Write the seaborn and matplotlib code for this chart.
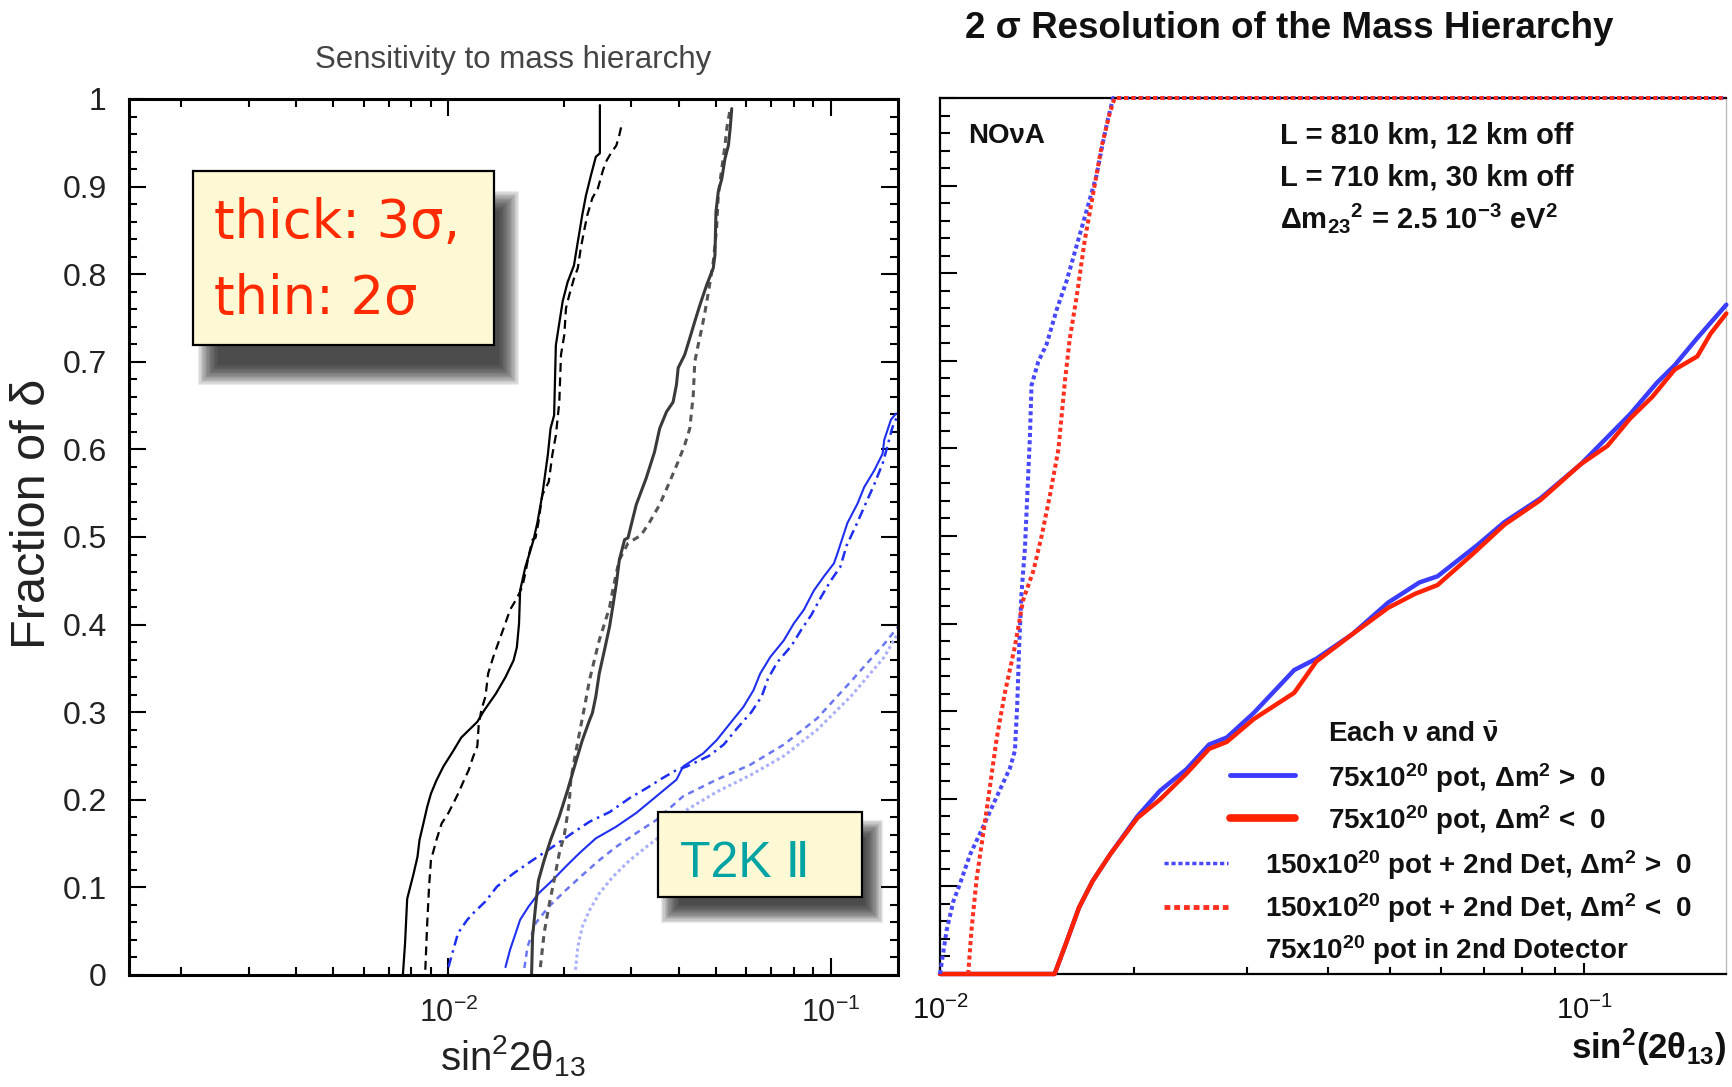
import matplotlib.pyplot as plt
import seaborn as sns
from matplotlib.lines import Line2D
from matplotlib.patches import Rectangle
from matplotlib.ticker import LogLocator, NullFormatter, MultipleLocator

# ---------------- data ----------------
# left panel (T2K II): x = sin^2 2theta13, y = fraction of delta
t2k_a_x = [0.0076, 0.0077, 0.0078, 0.0081, 0.0083, 0.0084, 0.0086, 0.0088, 0.0090, 0.0093,
           0.0097, 0.0103, 0.0108, 0.0119, 0.0124, 0.0133, 0.0141, 0.0148, 0.0151, 0.0153,
           0.0154, 0.0159, 0.0164, 0.0167, 0.0171, 0.0176, 0.0182, 0.0185, 0.0189, 0.0191,
           0.0199, 0.0205, 0.0213, 0.0218, 0.0224, 0.0229, 0.0236, 0.0243, 0.0249, 0.0249]
t2k_a_y = [0.0, 0.036, 0.087, 0.115, 0.135, 0.154, 0.173, 0.192, 0.207, 0.222,
           0.238, 0.256, 0.271, 0.289, 0.302, 0.321, 0.340, 0.359, 0.374, 0.401,
           0.439, 0.466, 0.485, 0.497, 0.517, 0.548, 0.594, 0.624, 0.639, 0.719,
           0.769, 0.791, 0.810, 0.837, 0.868, 0.890, 0.913, 0.934, 0.938, 0.993]

t2k_b_x = [0.0087, 0.0088, 0.0089, 0.0090, 0.0093, 0.0096, 0.0100, 0.0103, 0.0106, 0.0110,
           0.0113, 0.0116, 0.0119, 0.0120, 0.0122, 0.0125, 0.0127, 0.0131, 0.0135, 0.0140,
           0.0145, 0.0151, 0.0156, 0.0159, 0.0162, 0.0166, 0.0169, 0.0172, 0.0176, 0.0183,
           0.0187, 0.0191, 0.0195, 0.0197, 0.0201, 0.0203, 0.0207, 0.0213, 0.0218, 0.0222,
           0.0227, 0.0231, 0.0238, 0.0246, 0.0253, 0.0258, 0.0266, 0.0275, 0.0280, 0.0285]
t2k_b_y = [0.006, 0.059, 0.101, 0.131, 0.154, 0.173, 0.185, 0.196, 0.207, 0.223,
           0.234, 0.249, 0.261, 0.285, 0.303, 0.318, 0.344, 0.363, 0.379, 0.398,
           0.417, 0.430, 0.443, 0.459, 0.478, 0.497, 0.499, 0.517, 0.548, 0.563,
           0.594, 0.616, 0.654, 0.708, 0.731, 0.761, 0.776, 0.795, 0.807, 0.830,
           0.852, 0.868, 0.887, 0.898, 0.917, 0.928, 0.938, 0.947, 0.959, 0.974]

t2k_c_x = [0.0165, 0.0166, 0.0169, 0.0172, 0.0178, 0.0185, 0.0195, 0.0205, 0.0215, 0.0224,
           0.0234, 0.0238, 0.0243, 0.0248, 0.0256, 0.0264, 0.0269, 0.0275, 0.0280, 0.0289,
           0.0295, 0.0310, 0.0329, 0.0346, 0.0357, 0.0372, 0.0387, 0.0395, 0.0399, 0.0415,
           0.0428, 0.0441, 0.0455, 0.0474, 0.0493, 0.0498, 0.0501, 0.0508, 0.0519, 0.0529,
           0.0540, 0.0546, 0.0551]
t2k_c_y = [0.0, 0.044, 0.078, 0.108, 0.131, 0.154, 0.181, 0.211, 0.242, 0.268,
           0.291, 0.299, 0.318, 0.344, 0.371, 0.398, 0.420, 0.447, 0.474, 0.497,
           0.499, 0.537, 0.567, 0.597, 0.624, 0.643, 0.654, 0.674, 0.693, 0.708,
           0.727, 0.746, 0.765, 0.788, 0.807, 0.822, 0.871, 0.894, 0.909, 0.932,
           0.947, 0.967, 0.989]

t2k_d_x = [0.0174, 0.0178, 0.0183, 0.0189, 0.0195, 0.0201, 0.0207, 0.0209, 0.0215, 0.0221,
           0.0227, 0.0234, 0.0241, 0.0248, 0.0256, 0.0264, 0.0269, 0.0275, 0.0280, 0.0295,
           0.0319, 0.0336, 0.0357, 0.0379, 0.0399, 0.0415, 0.0428, 0.0437, 0.0441, 0.0450,
           0.0460, 0.0469, 0.0479, 0.0493, 0.0503, 0.0508, 0.0519, 0.0529, 0.0535, 0.0546]
t2k_d_y = [0.009, 0.048, 0.078, 0.108, 0.139, 0.160, 0.196, 0.223, 0.253, 0.280,
           0.306, 0.337, 0.360, 0.382, 0.401, 0.420, 0.439, 0.459, 0.474, 0.493,
           0.502, 0.517, 0.537, 0.563, 0.586, 0.605, 0.624, 0.662, 0.700, 0.719,
           0.738, 0.757, 0.780, 0.814, 0.852, 0.890, 0.921, 0.947, 0.967, 0.989]

t2k_e_x = [0.0100, 0.0103, 0.0106, 0.0112, 0.0117, 0.0125, 0.0134, 0.0148, 0.0166, 0.0187,
           0.0211, 0.0234, 0.0264, 0.0298, 0.0329, 0.0364, 0.0395, 0.0420, 0.0480, 0.0525,
           0.0570, 0.0620, 0.0660, 0.0685, 0.0725, 0.0790, 0.0840, 0.0890, 0.0945, 0.1000,
           0.1060, 0.1100, 0.1170, 0.1240, 0.1300, 0.1370, 0.1400, 0.1450, 0.1500]
t2k_e_y = [0.009, 0.029, 0.048, 0.063, 0.072, 0.084, 0.101, 0.116, 0.131, 0.146,
           0.162, 0.175, 0.186, 0.202, 0.213, 0.225, 0.234, 0.238, 0.250, 0.263,
           0.282, 0.300, 0.318, 0.338, 0.357, 0.376, 0.395, 0.411, 0.432, 0.450,
           0.466, 0.490, 0.515, 0.540, 0.560, 0.585, 0.600, 0.625, 0.640]

t2k_f_x = [0.0141, 0.0145, 0.0150, 0.0154, 0.0162, 0.0172, 0.0187, 0.0203, 0.0220, 0.0243,
           0.0274, 0.0310, 0.0350, 0.0395, 0.0411, 0.0464, 0.0503, 0.0545, 0.0591, 0.0628,
           0.0654, 0.0695, 0.0754, 0.0800, 0.0851, 0.0904, 0.0960, 0.1020, 0.1041, 0.1106,
           0.1175, 0.1224, 0.1300, 0.1367, 0.1381, 0.1438, 0.1483]
t2k_f_y = [0.009, 0.029, 0.048, 0.063, 0.078, 0.093, 0.108, 0.124, 0.139, 0.156,
           0.169, 0.185, 0.204, 0.223, 0.238, 0.253, 0.268, 0.287, 0.306, 0.325,
           0.344, 0.363, 0.382, 0.401, 0.417, 0.439, 0.455, 0.470, 0.481, 0.516,
           0.538, 0.557, 0.576, 0.595, 0.611, 0.634, 0.641]

t2k_g_x = [0.0158, 0.0161, 0.0169, 0.0183, 0.0203, 0.0224, 0.0248, 0.0274, 0.0310, 0.0350,
           0.0411, 0.0503, 0.0616, 0.0754, 0.0922, 0.1129, 0.1381, 0.1497]
t2k_g_y = [0.008, 0.032, 0.059, 0.078, 0.097, 0.114, 0.131, 0.146, 0.162, 0.177,
           0.204, 0.223, 0.240, 0.263, 0.293, 0.335, 0.378, 0.397]

t2k_h_x = [0.0215, 0.0218, 0.0224, 0.0234, 0.0248, 0.0269, 0.0298, 0.0329, 0.0357, 0.0411,
           0.0503, 0.0616, 0.0754, 0.0922, 0.1129, 0.1381, 0.1497]
t2k_h_y = [0.006, 0.032, 0.055, 0.074, 0.093, 0.112, 0.131, 0.146, 0.158, 0.186,
           0.209, 0.228, 0.250, 0.280, 0.318, 0.363, 0.390]

# right panel (NOvA)
nova_blue_x = [0.0100, 0.01506, 0.01569, 0.01644, 0.01725, 0.01839, 0.02025, 0.02194, 0.02415, 0.02617,
               0.02788, 0.03069, 0.03547, 0.03841, 0.04367, 0.04962, 0.05549, 0.05920, 0.06835, 0.07522,
               0.08553, 0.09879, 0.1087, 0.1178, 0.1297, 0.1382, 0.1498, 0.1662]
nova_blue_y = [0.0, 0.0, 0.035, 0.076, 0.106, 0.137, 0.180, 0.209, 0.234, 0.262,
               0.270, 0.298, 0.347, 0.360, 0.388, 0.424, 0.447, 0.454, 0.490, 0.516,
               0.543, 0.582, 0.613, 0.639, 0.675, 0.695, 0.726, 0.764]
nova_red_x = [0.0100, 0.01506, 0.01569, 0.01644, 0.01725, 0.01839, 0.02025, 0.02194, 0.02415, 0.02617,
              0.02788, 0.03069, 0.03547, 0.03841, 0.04367, 0.04962, 0.05463, 0.05920, 0.06727, 0.07522,
              0.08553, 0.09879, 0.1087, 0.1178, 0.1276, 0.1382, 0.1498, 0.1571, 0.1662]
nova_red_y = [0.0, 0.0, 0.035, 0.076, 0.106, 0.137, 0.178, 0.199, 0.229, 0.257,
              0.265, 0.291, 0.321, 0.357, 0.388, 0.418, 0.434, 0.444, 0.480, 0.513,
              0.541, 0.582, 0.603, 0.634, 0.659, 0.690, 0.705, 0.731, 0.754]
nova_blue2_x = [0.0100, 0.01024, 0.01049, 0.01074, 0.01113, 0.01168, 0.01224, 0.01284, 0.01307, 0.01318,
                0.01327, 0.01338, 0.01355, 0.01366, 0.01379, 0.01387, 0.01421, 0.01464, 0.01517, 0.01572,
                0.01629, 0.01688, 0.01749, 0.01791, 0.01824, 0.01857, 0.166]
nova_blue2_y = [0.0, 0.050, 0.083, 0.103, 0.136, 0.169, 0.202, 0.235, 0.255, 0.308,
                0.374, 0.434, 0.487, 0.546, 0.613, 0.672, 0.699, 0.719, 0.758, 0.791,
                0.831, 0.871, 0.911, 0.950, 0.977, 1.0, 1.0]
nova_red2_x = [0.01106, 0.01119, 0.01140, 0.01168, 0.01196, 0.01224, 0.01261, 0.01307, 0.01346, 0.01396,
               0.01438, 0.01481, 0.01527, 0.01564, 0.01590, 0.01629, 0.01678, 0.01729, 0.01781, 0.01835,
               0.01867, 0.166]
nova_red2_y = [0.0, 0.050, 0.109, 0.162, 0.215, 0.268, 0.321, 0.374, 0.427, 0.460,
               0.500, 0.546, 0.599, 0.679, 0.725, 0.772, 0.838, 0.891, 0.944, 0.983,
               1.0, 1.0]

YTICKS = [0, 0.1, 0.2, 0.3, 0.4, 0.5, 0.6, 0.7, 0.8, 0.9, 1.0]
YTICK_LABELS = ['0', '0.1', '0.2', '0.3', '0.4', '0.5', '0.6', '0.7', '0.8', '0.9', '1']

# ---------------- style ----------------
sns.set_theme(style='ticks')
plt.rcParams['font.family'] = ['Liberation Sans', 'DejaVu Sans']
plt.rcParams['mathtext.fontset'] = 'custom'
plt.rcParams['mathtext.rm'] = 'Liberation Sans'
plt.rcParams['mathtext.it'] = 'Liberation Sans:italic'
plt.rcParams['mathtext.bf'] = 'Liberation Sans:bold'

W, H = 1733, 1087
fig = plt.figure(figsize=(W / 100, H / 100), dpi=100)
fig.patch.set_facecolor('white')


def fx(px):
    return px / W


def fy(py):
    return 1 - py / H


def curve(ax, xs, ys, **kw):
    sns.lineplot(x=xs, y=ys, ax=ax, sort=False, estimator=None, **kw)


ax1 = fig.add_axes([fx(129), fy(975), (898 - 129) / W, (975 - 99) / H])
ax2 = fig.add_axes([fx(940), fy(974), (1726 - 940) / W, (974 - 98) / H])

# ---------------- left panel ----------------
curve(ax1, t2k_h_x, t2k_h_y, color='#aab1fa', linewidth=2.2, linestyle=(0, (1, 1)))
curve(ax1, t2k_g_x, t2k_g_y, color='#6a76f2', linewidth=1.8, linestyle=(0, (2.5, 2)))
curve(ax1, t2k_f_x, t2k_f_y, color='#1f2ff0', linewidth=1.5)
curve(ax1, t2k_e_x, t2k_e_y, color='#1f2ff0', linewidth=1.8, linestyle=(0, (4, 2, 1, 2)))
curve(ax1, t2k_d_x, t2k_d_y, color='#555555', linewidth=2.2, linestyle=(0, (2.2, 1.8)))
curve(ax1, t2k_c_x, t2k_c_y, color='#3a3a3a', linewidth=2.2)
curve(ax1, t2k_b_x, t2k_b_y, color='black', linewidth=1.6, linestyle=(0, (4, 2.5)))
curve(ax1, t2k_a_x, t2k_a_y, color='black', linewidth=1.6)

ax1.set_xscale('log')
ax1.set_xlim(1.46e-3, 0.150)
ax1.set_ylim(0, 1)
ax1.set_yticks(YTICKS)
ax1.set_yticklabels(YTICK_LABELS)
ax1.yaxis.set_minor_locator(MultipleLocator(0.02))
ax1.xaxis.set_major_locator(LogLocator(base=10))
ax1.xaxis.set_minor_locator(LogLocator(base=10, subs=range(2, 10)))
ax1.xaxis.set_minor_formatter(NullFormatter())
ax1.tick_params(which='both', direction='in', top=True, right=True, width=1.5,
                color='black', labelcolor='#222222')
ax1.tick_params(which='major', length=12)
ax1.tick_params(which='minor', length=6)
ax1.tick_params(axis='y', pad=16, labelsize=23)
ax1.tick_params(axis='x', pad=16, labelsize=22)
for s in ax1.spines.values():
    s.set_linewidth(2.2)
    s.set_color('black')
ax1.set_xlabel('')
ax1.set_ylabel('')

fig.text(fx(513), fy(68), 'Sensitivity to mass hierarchy', ha='center', va='baseline',
         fontsize=22.5, color='#444444')
fig.text(fx(33), fy(514), 'Fraction of δ', rotation=90, ha='center', va='center',
         fontsize=35, color='#222222')
fig.text(fx(513), fy(1070), 'sin$^2$2θ$_{13}$', ha='center', va='baseline',
         fontsize=29, color='#222222')


def shadow_box(x0, y0, x1, y1, dx, dy, blur):
    steps = 16
    for i in range(steps):
        grow = blur * (1 - i / (steps - 1)) - blur / 2
        fig.add_artist(Rectangle((fx(x0 + dx - grow), fy(y1 + dy + grow)),
                                 (x1 - x0 + 2 * grow) / W, (y1 - y0 + 2 * grow) / H,
                                 transform=fig.transFigure, facecolor='#1a1a1a',
                                 edgecolor='none', alpha=0.085, zorder=5))
    fig.add_artist(Rectangle((fx(x0), fy(y1)), (x1 - x0) / W, (y1 - y0) / H,
                             transform=fig.transFigure, facecolor='#fcf9d4',
                             edgecolor='black', linewidth=1.6, zorder=6))


shadow_box(193, 171, 494, 345, 15, 30, 20)
fig.text(fx(214), fy(238), 'thick: 3σ,', ha='left', va='baseline', fontsize=38,
         color='#ff2a00', family='DejaVu Sans', zorder=7)
fig.text(fx(214), fy(314), 'thin: 2σ', ha='left', va='baseline', fontsize=38,
         color='#ff2a00', family='DejaVu Sans', zorder=7)

shadow_box(658, 812, 862, 897, 12, 17, 18)
fig.text(fx(680), fy(877), 'T2K Ⅱ', ha='left', va='baseline', fontsize=36,
         color='#00a3a3', family=['Liberation Sans', 'DejaVu Sans'], zorder=7)

# ---------------- right panel ----------------
curve(ax2, nova_blue_x, nova_blue_y, color='#3c3cff', linewidth=3.2, clip_on=False, zorder=4)
curve(ax2, nova_red_x, nova_red_y, color='#ff2200', linewidth=3.2, clip_on=False, zorder=4)
curve(ax2, nova_blue2_x, nova_blue2_y, color='#4848ff', linewidth=2.9,
      linestyle=(0, (1.0, 0.8)), clip_on=False, zorder=5)
curve(ax2, nova_red2_x, nova_red2_y, color='#ff3020', linewidth=2.9,
      linestyle=(0, (1.0, 0.8)), clip_on=False, zorder=5)

ax2.set_xscale('log')
ax2.set_xlim(0.01, 0.166)
ax2.set_ylim(0, 1)
ax2.set_yticks(YTICKS)
ax2.yaxis.set_minor_locator(MultipleLocator(0.02))
ax2.xaxis.set_major_locator(LogLocator(base=10))
ax2.xaxis.set_minor_locator(LogLocator(base=10, subs=range(2, 10)))
ax2.xaxis.set_minor_formatter(NullFormatter())
ax2.tick_params(which='both', direction='in', top=False, right=False, width=1.5,
                color='black', labelcolor='#111111', labelsize=21, labelleft=False)
ax2.tick_params(axis='y', which='major', length=12)
ax2.tick_params(axis='y', which='minor', length=7)
ax2.tick_params(axis='x', which='major', length=8, pad=16)
ax2.tick_params(axis='x', which='minor', length=5)
for name, s in ax2.spines.items():
    s.set_linewidth(1.6)
    s.set_color('black')
ax2.spines['right'].set_color('#bbbbbb')
ax2.spines['right'].set_linewidth(1)
ax2.set_xlabel('')
ax2.set_ylabel('')

fig.text(fx(965), fy(38), '2 σ Resolution of the Mass Hierarchy', ha='left', va='baseline',
         fontsize=26.5, fontweight='bold', color='#111111')
fig.text(fx(968), fy(143), 'NOνA', ha='left', va='baseline', fontsize=20,
         fontweight='bold', color='#111111')
fig.text(fx(1280), fy(143), 'L = 810 km, 12 km off', ha='left', va='baseline',
         fontsize=21, fontweight='bold', color='#111111')
fig.text(fx(1280), fy(186), 'L = 710 km, 30 km off', ha='left', va='baseline',
         fontsize=21, fontweight='bold', color='#111111')
fig.text(fx(1280), fy(228), r'Δm$_{\mathbf{23}}{}^{\mathbf{2}}$ = 2.5 10$^{\mathbf{-3}}$ eV$^{\mathbf{2}}$',
         ha='left', va='baseline', fontsize=21, fontweight='bold', color='#111111')

# legend block
fig.text(fx(1328), fy(742), r'Each ν and $\bar{\mathbf{ν}}$', ha='left', va='baseline',
         fontsize=20, fontweight='bold', color='#111111')
legend_rows = [
    (1230, 1295, 775, '#3c3cff', 3.5, '-', 1328, 787, r'75x10$^{\mathbf{20}}$ pot, Δm$^{\mathbf{2}}$ >  0'),
    (1230, 1295, 818, '#ff2200', 5.5, '-', 1328, 829, r'75x10$^{\mathbf{20}}$ pot, Δm$^{\mathbf{2}}$ <  0'),
    (1164, 1228, 863, '#4848ff', 2.5, (0, (1.2, 0.8)), 1265, 874,
     r'150x10$^{\mathbf{20}}$ pot + 2nd Det, Δm$^{\mathbf{2}}$ >  0'),
    (1164, 1228, 907, '#ff3020', 3.5, (0, (1.2, 0.8)), 1265, 917,
     r'150x10$^{\mathbf{20}}$ pot + 2nd Det, Δm$^{\mathbf{2}}$ <  0'),
]
for x0, x1, yl, col, lw, ls, tx, ty, label in legend_rows:
    fig.add_artist(Line2D([fx(x0), fx(x1)], [fy(yl), fy(yl)], transform=fig.transFigure,
                          color=col, linewidth=lw, linestyle=ls))
    fig.text(fx(tx), fy(ty), label, ha='left', va='baseline', fontsize=20,
             fontweight='bold', color='#111111')
fig.text(fx(1265), fy(959), r'75x10$^{\mathbf{20}}$ pot in 2nd Dotector', ha='left', va='baseline',
         fontsize=20, fontweight='bold', color='#111111')

fig.text(fx(1726), fy(1059), r'sin$^{\mathbf{2}}$(2θ$_{\mathbf{13}}$)', ha='right', va='baseline',
         fontsize=25, fontweight='bold', color='#111111')

fig.savefig('out.png', dpi=100, facecolor='white')
